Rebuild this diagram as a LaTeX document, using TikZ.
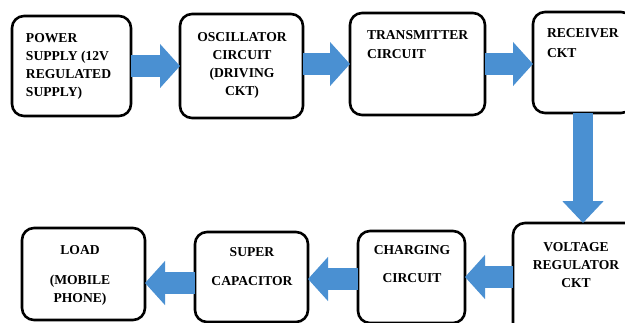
\documentclass[tikz,border=0pt]{standalone}
\usepackage{fontspec}
\setmainfont{Liberation Serif}
\usetikzlibrary{arrows.meta,calc}
\definecolor{flowblue}{RGB}{74,144,210}
\tikzset{
  block/.style={draw=black, line width=2.6pt, rounded corners=12pt, fill=white,
    inner sep=0pt, outer sep=0pt},
  lbl/.style={font=\fontsize{13.6}{18.3}\selectfont\bfseries, inner sep=0pt, outer sep=0pt},
  flow/.style={draw=flowblue, line width=22pt,
    -{Triangle[length=20pt,width=43pt]}},
  flowdown/.style={draw=flowblue, line width=20pt,
    -{Triangle[length=22pt,width=40pt]}}
}
\begin{document}
\begin{tikzpicture}[x=1pt,y=-1pt]
  \useasboundingbox (0,0) rectangle (625,322);
  \clip (0,0) rectangle (625,322);

  % top row
  \node[block, minimum width=119pt, minimum height=100pt] (b1) at (71.5,66) {};
  \node[block, minimum width=123pt, minimum height=104pt] (b2) at (241.5,66) {};
  \node[block, minimum width=135pt, minimum height=102pt] (b3) at (417.5,64) {};
  \node[block, minimum width=100pt, minimum height=101pt] (b4) at (583,62.5) {};

  % bottom row
  \node[block, minimum width=127pt, minimum height=112pt] (b5) at (576.5,279) {};
  \node[block, minimum width=107pt, minimum height=92pt] (b6) at (411.5,277) {};
  \node[block, minimum width=113pt, minimum height=90pt] (b7) at (251.5,277) {};
  \node[block, minimum width=123pt, minimum height=92pt] (b8) at (83.5,274) {};

  % labels
  \node[lbl, anchor=north west, align=left] (t1) at (26,33)
    {POWER\\SUPPLY (12V\\REGULATED\\SUPPLY)};
  \node[lbl, anchor=north, align=center] (t2) at (242,32)
    {OSCILLATOR\\CIRCUIT\\(DRIVING\\CKT)};
  \node[lbl, anchor=north west, align=left] (t3) at (367,30)
    {TRANSMITTER\\[1pt]CIRCUIT};
  \node[lbl, anchor=north west, align=left] (t4) at (547,28)
    {RECEIVER\\[2pt]CKT};
  \node[lbl, anchor=north, align=center] (t5) at (576,242)
    {VOLTAGE\\REGULATOR\\CKT};
  \node[lbl, anchor=north, align=center] (t6) at (412,245)
    {CHARGING\\[10pt]CIRCUIT};
  \node[lbl, anchor=north, align=center] (t7) at (252,247)
    {SUPER\\[11pt]CAPACITOR};
  \node[lbl, anchor=north, align=center] (t8) at (80,245)
    {LOAD\\[12pt](MOBILE\\PHONE)};

  % flow arrows
  \draw[flow] (b1.east) -- (b2.west);
  \draw[flow] ([yshift=2pt]b2.east) -- ([yshift=2pt]b2.east -| b3.west);
  \draw[flow] (b3.east) -- (b3.east -| b4.west);
  \draw[flowdown] (b4.south) -- (b4.south |- b5.north);
  \draw[flow] (b5.west |- b6.east) -- (b6.east);
  \draw[flow] ([yshift=-2pt]b6.west) -- ([yshift=-2pt]b6.west -| b7.east);
  \draw[flow] ([yshift=-6pt]b7.west) -- ([yshift=-6pt]b7.west -| b8.east);
\end{tikzpicture}
\end{document}
